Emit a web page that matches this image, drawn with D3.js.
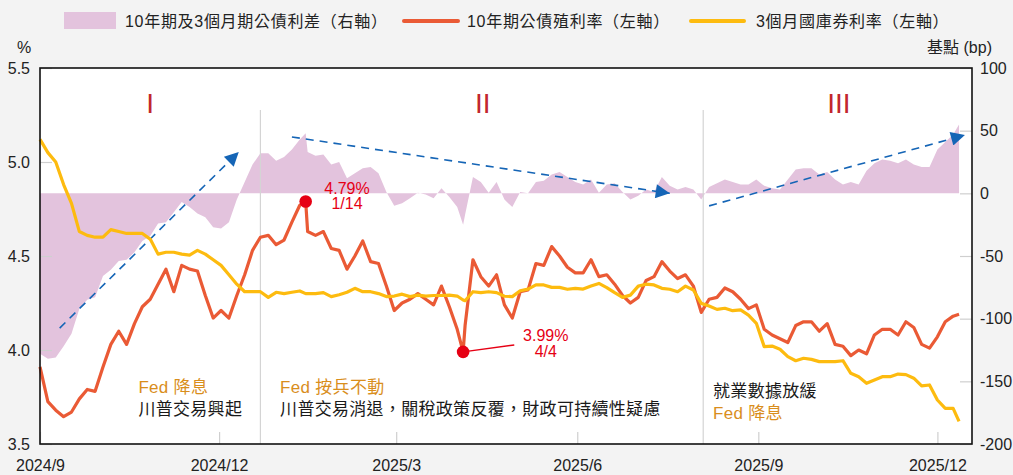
<!DOCTYPE html>
<html>
<head>
<meta charset="utf-8">
<script src="https://cdn.jsdelivr.net/npm/d3@7"></script>
<style>
  html, body { margin: 0; padding: 0; background: #f3f3f3; }
  svg { display: block; font-family: "Liberation Sans", "Noto Sans CJK TC", Arial, sans-serif; }
</style>
</head>
<body>
<div id="chart"></div>
<script>
// 取樣日期（約每4日一筆，另加 1/14 與 4/4 兩個標註點）
const dates = [
  "2024-09-01","2024-09-05","2024-09-09","2024-09-13","2024-09-17","2024-09-21","2024-09-25","2024-09-29","2024-10-03","2024-10-07",
  "2024-10-11","2024-10-15","2024-10-19","2024-10-23","2024-10-27","2024-10-31","2024-11-04","2024-11-08","2024-11-12","2024-11-16",
  "2024-11-20","2024-11-24","2024-11-28","2024-12-02","2024-12-06","2024-12-10","2024-12-14","2024-12-18","2024-12-22","2024-12-26",
  "2024-12-30","2025-01-03","2025-01-07","2025-01-11","2025-01-14","2025-01-15","2025-01-19","2025-01-23","2025-01-27","2025-01-31","2025-02-04",
  "2025-02-08","2025-02-12","2025-02-16","2025-02-20","2025-02-24","2025-02-28","2025-03-04","2025-03-08","2025-03-12","2025-03-16",
  "2025-03-20","2025-03-24","2025-03-28","2025-04-01","2025-04-04","2025-04-05","2025-04-09","2025-04-13","2025-04-17","2025-04-21","2025-04-25",
  "2025-04-29","2025-05-03","2025-05-07","2025-05-11","2025-05-15","2025-05-19","2025-05-23","2025-05-27","2025-05-31","2025-06-04",
  "2025-06-08","2025-06-12","2025-06-16","2025-06-20","2025-06-24","2025-06-28","2025-07-02","2025-07-06","2025-07-10","2025-07-14",
  "2025-07-18","2025-07-22","2025-07-26","2025-07-30","2025-08-03","2025-08-07","2025-08-11","2025-08-15","2025-08-19","2025-08-23",
  "2025-08-27","2025-08-31","2025-09-04","2025-09-08","2025-09-12","2025-09-16","2025-09-20","2025-09-24","2025-09-28","2025-10-02",
  "2025-10-06","2025-10-10","2025-10-14","2025-10-18","2025-10-22","2025-10-26","2025-10-30","2025-11-03","2025-11-07","2025-11-11",
  "2025-11-15","2025-11-19","2025-11-23","2025-11-27","2025-12-01","2025-12-05","2025-12-09","2025-12-12"
];

// 10年期公債殖利率（%，左軸）
const yield10y = [
  3.91,3.725,3.68,3.645,3.67,3.74,3.79,3.78,3.91,4.03,
  4.10,4.03,4.14,4.23,4.27,4.35,4.43,4.31,4.45,4.43,
  4.42,4.29,4.17,4.21,4.17,4.29,4.40,4.53,4.60,4.61,
  4.56,4.585,4.68,4.77,4.79,4.63,4.61,4.63,4.54,4.53,4.43,
  4.50,4.58,4.47,4.46,4.34,4.21,4.25,4.27,4.30,4.27,
  4.24,4.34,4.23,4.11,3.99,4.13,4.48,4.39,4.34,4.40,4.24,
  4.17,4.31,4.32,4.46,4.45,4.55,4.50,4.44,4.41,4.41,
  4.48,4.39,4.40,4.35,4.29,4.25,4.28,4.37,4.39,4.47,
  4.42,4.38,4.40,4.34,4.20,4.27,4.28,4.33,4.31,4.27,
  4.22,4.24,4.11,4.08,4.06,4.04,4.13,4.15,4.15,4.10,
  4.14,4.03,4.02,3.97,4.00,3.98,4.08,4.11,4.11,4.08,
  4.15,4.12,4.03,4.01,4.07,4.15,4.18,4.19
];

// 3個月國庫券利率（%，左軸）
const bill3m = [
  5.12,5.05,5.00,4.88,4.78,4.63,4.61,4.60,4.60,4.64,
  4.63,4.62,4.62,4.62,4.59,4.51,4.52,4.52,4.51,4.505,
  4.53,4.51,4.48,4.45,4.40,4.35,4.31,4.31,4.31,4.28,
  4.307,4.30,4.307,4.314,4.30,4.30,4.30,4.305,4.284,4.294,4.307,
  4.328,4.31,4.31,4.30,4.284,4.287,4.297,4.284,4.292,4.287,
  4.29,4.29,4.292,4.287,4.266,4.262,4.31,4.305,4.31,4.305,4.286,
  4.284,4.315,4.324,4.346,4.346,4.333,4.333,4.323,4.328,4.324,
  4.34,4.354,4.332,4.305,4.28,4.292,4.34,4.35,4.346,4.328,
  4.323,4.31,4.34,4.319,4.248,4.234,4.216,4.222,4.209,4.213,
  4.186,4.142,4.018,4.021,4.004,3.965,3.943,3.956,3.95,3.938,
  3.938,3.938,3.943,3.876,3.858,3.823,3.84,3.858,3.858,3.872,
  3.869,3.85,3.809,3.814,3.734,3.69,3.69,3.62
];

// 10年期及3個月期公債利差（基點，右軸）
const spreadBp = [
  -128,-132,-131,-122,-112,-92,-85,-83,-66,-61,
  -54,-53,-47,-38,-34,-24,-23,-15,-7,-11,
  -16,-19,-27,-28,-23,-5,9,23,32,32,
  26,29,35,43,48,33,30,31,23,25,12,
  16,20,21,16,1,-10,-8,-4,0.5,-1,
  -4,4,-3,-11,-25,-17,13,9,0.5,9,-5,
  -11,1,0,9,10,15,17,13,9,7,
  11,0.5,7,8,1,-5,-2,3,1,13,
  6,3,5,3,-5,5,8,11,9,7,
  7,11,6,4,3,11,19,20,20,15,
  17,11,7,9,7,18,24,27,26,24,
  27,23,21,21,35,41,47,55
];

const leftTicks = [3.5, 4.0, 4.5, 5.0, 5.5];
const rightTicks = [-200, -150, -100, -50, 0, 50, 100];
const monthTicks = ["2024-09-01","2024-12-01","2025-03-01","2025-06-01","2025-09-01","2025-12-01"];

const legendLabels = ["10年期及3個月期公債利差（右軸）", "10年期公債殖利率（左軸）", "3個月國庫券利率（左軸）"];

// 階段分隔與標示
const phaseDividers = ["2024-12-22", "2025-08-04"];
const phaseLabels = [
  { date: "2024-10-27", text: "I" },
  { date: "2025-04-14", text: "II" },
  { date: "2025-10-12", text: "III" }
];

// 利差趨勢箭頭（右軸，基點）
const trendArrows = [
  { from: ["2024-09-11", -107.5], to: ["2024-12-11", 33] },
  { from: ["2025-01-07", 45], to: ["2025-07-18", 0] },
  { from: ["2025-08-07", -10], to: ["2025-12-15", 46.5] }
];

const highlights = [
  { date: "2025-01-14", value: 4.79, label: "4.79%", sub: "1/14", labelDate: "2025-02-04", labelValue: 4.862, subValue: 4.779 },
  { date: "2025-04-04", value: 3.99, label: "3.99%", sub: "4/4", labelDate: "2025-05-16", labelValue: 4.080, subValue: 3.991, leaderTo: ["2025-04-30", 4.027] }
];

const notes = [
  { date: "2024-10-21", value: 3.803, text: "Fed 降息", gold: true },
  { date: "2024-10-21", value: 3.686, text: "川普交易興起", gold: false },
  { date: "2025-01-01", value: 3.803, text: "Fed 按兵不動", gold: true },
  { date: "2025-01-01", value: 3.686, text: "川普交易消退，關稅政策反覆，財政可持續性疑慮", gold: false },
  { date: "2025-08-09", value: 3.784, text: "就業數據放緩", gold: false },
  { date: "2025-08-09", value: 3.665, text: "Fed 降息", gold: true }
];

const parse = d3.timeParse("%Y-%m-%d");

const W = 1013, H = 475;
const margin = { top: 68, right: 41, bottom: 31, left: 40 };
const innerW = W - margin.left - margin.right;
const innerH = H - margin.top - margin.bottom;

const colors = {
  spread: "#e3c3dd",
  y10: "#ea5a35",
  b3m: "#fdbb0f",
  arrow: "#1565b6",
  hi: "#e60014",
  gold: "#d98e1c",
  roman: "#c2262e"
};

const rows = dates.map((d, i) => ({
  date: parse(d),
  y10: yield10y[i],
  b3m: bill3m[i],
  spread: spreadBp[i]
}));

const svg = d3.select("#chart").append("svg")
  .attr("width", W)
  .attr("height", H)
  .attr("viewBox", `0 0 ${W} ${H}`);

svg.append("rect").attr("width", W).attr("height", H).attr("fill", "#f3f3f3");

const g = svg.append("g").attr("transform", `translate(${margin.left},${margin.top})`);

g.append("rect").attr("width", innerW).attr("height", innerH).attr("fill", "#ffffff");

const x = d3.scaleTime()
  .domain([new Date(2024, 8, 1), new Date(2025, 11, 18, 14)])
  .range([0, innerW]);
const yL = d3.scaleLinear().domain([3.5, 5.5]).range([innerH, 0]);
const yR = d3.scaleLinear().domain([-200, 100]).range([innerH, 0]);

const defs = svg.append("defs");
defs.append("marker")
  .attr("id", "arrowhead")
  .attr("viewBox", "0 0 10 10")
  .attr("refX", 10)
  .attr("refY", 5)
  .attr("markerWidth", 17)
  .attr("markerHeight", 14)
  .attr("markerUnits", "userSpaceOnUse")
  .attr("orient", "auto")
  .append("path")
  .attr("d", "M0,0 L10,5 L0,10 Z")
  .attr("fill", colors.arrow);

// 利差面積
g.append("path")
  .datum(rows)
  .attr("fill", colors.spread)
  .attr("d", d3.area()
    .x(d => x(d.date))
    .y0(yR(0))
    .y1(d => yR(d.spread)));

// 分隔線
g.selectAll(".divider")
  .data(phaseDividers)
  .enter()
  .append("line")
  .attr("class", "divider")
  .attr("x1", d => x(parse(d)))
  .attr("x2", d => x(parse(d)))
  .attr("y1", yL(5.277))
  .attr("y2", innerH)
  .attr("stroke", "#d4d4d4")
  .attr("stroke-width", 1.2);

const axisFont = "'Liberation Sans', Arial, sans-serif";

// 軸刻度（向內）
g.append("g")
  .call(d3.axisLeft(yL).tickValues(leftTicks).tickSize(-12).tickPadding(10).tickFormat(d3.format(".1f")))
  .call(a => a.select(".domain").remove())
  .call(a => a.selectAll("line").attr("stroke", "#cfcfcf").attr("stroke-width", 1.2))
  .call(a => a.selectAll("text").attr("fill", "#222").style("font-size", "16px").style("font-family", axisFont));

g.append("g")
  .attr("transform", `translate(${innerW},0)`)
  .call(d3.axisRight(yR).tickValues(rightTicks).tickSize(-12).tickPadding(8).tickFormat(d => String(d)))
  .call(a => a.select(".domain").remove())
  .call(a => a.selectAll("line").attr("stroke", "#cfcfcf").attr("stroke-width", 1.2))
  .call(a => a.selectAll("text").attr("fill", "#222").style("font-size", "16px").style("font-family", axisFont));

g.append("g")
  .attr("transform", `translate(0,${innerH})`)
  .call(d3.axisBottom(x).tickValues(monthTicks.map(parse)).tickSize(-12).tickPadding(16)
    .tickFormat(d3.timeFormat("%Y/%-m")))
  .call(a => a.select(".domain").remove())
  .call(a => a.selectAll("line").attr("stroke", "#cfcfcf").attr("stroke-width", 1.2))
  .call(a => a.selectAll("text").attr("fill", "#222").style("font-size", "16px").style("font-family", axisFont));

// 趨勢箭頭
g.selectAll(".trend")
  .data(trendArrows)
  .enter()
  .append("line")
  .attr("class", "trend")
  .attr("x1", d => x(parse(d.from[0])))
  .attr("y1", d => yR(d.from[1]))
  .attr("x2", d => x(parse(d.to[0])))
  .attr("y2", d => yR(d.to[1]))
  .attr("stroke", colors.arrow)
  .attr("stroke-width", 1.6)
  .attr("stroke-dasharray", "8,6")
  .attr("marker-end", "url(#arrowhead)");

// 兩條利率線
const line10 = d3.line().x(d => x(d.date)).y(d => yL(d.y10));
const line3m = d3.line().x(d => x(d.date)).y(d => yL(d.b3m));

g.append("path")
  .datum(rows)
  .attr("fill", "none")
  .attr("stroke", colors.y10)
  .attr("stroke-width", 3.2)
  .attr("stroke-linejoin", "round")
  .attr("d", line10);

g.append("path")
  .datum(rows)
  .attr("fill", "none")
  .attr("stroke", colors.b3m)
  .attr("stroke-width", 3.2)
  .attr("stroke-linejoin", "round")
  .attr("d", line3m);

// 外框
g.append("rect")
  .attr("width", innerW)
  .attr("height", innerH)
  .attr("fill", "none")
  .attr("stroke", "#111")
  .attr("stroke-width", 1.6);

// 階段標示
g.selectAll(".roman")
  .data(phaseLabels)
  .enter()
  .append("text")
  .attr("class", "roman")
  .attr("x", d => x(parse(d.date)))
  .attr("y", yL(5.26))
  .attr("text-anchor", "middle")
  .attr("fill", colors.roman)
  .style("font-size", "28px")
  .style("font-family", axisFont)
  .text(d => d.text);

// 高低點標註
highlights.forEach(h => {
  if (h.leaderTo) {
    g.append("line")
      .attr("x1", x(parse(h.date)))
      .attr("y1", yL(h.value))
      .attr("x2", x(parse(h.leaderTo[0])))
      .attr("y2", yL(h.leaderTo[1]))
      .attr("stroke", colors.hi)
      .attr("stroke-width", 1.5);
  }
  g.append("circle")
    .attr("cx", x(parse(h.date)))
    .attr("cy", yL(h.value))
    .attr("r", 6.3)
    .attr("fill", colors.hi);
  g.append("text")
    .attr("x", x(parse(h.labelDate)))
    .attr("y", yL(h.labelValue))
    .attr("dy", "0.35em")
    .attr("text-anchor", "middle")
    .attr("fill", colors.hi)
    .style("font-size", "16px")
    .text(h.label);
  g.append("text")
    .attr("x", x(parse(h.labelDate)))
    .attr("y", yL(h.subValue))
    .attr("dy", "0.35em")
    .attr("text-anchor", "middle")
    .attr("fill", colors.hi)
    .style("font-size", "16px")
    .text(h.sub);
});

// 說明文字
g.selectAll(".note")
  .data(notes)
  .enter()
  .append("text")
  .attr("class", "note")
  .attr("x", d => x(parse(d.date)))
  .attr("y", d => yL(d.value))
  .attr("dy", "0.38em")
  .attr("fill", d => d.gold ? colors.gold : "#1a1a1a")
  .style("font-size", "17px")
  .style("letter-spacing", "0.3px")
  .text(d => d.text);

// 軸單位
svg.append("text")
  .attr("x", 24).attr("y", 47)
  .attr("dy", "0.35em")
  .attr("text-anchor", "middle")
  .attr("fill", "#222")
  .style("font-size", "16px")
  .text("%");

svg.append("text")
  .attr("x", 992).attr("y", 47)
  .attr("dy", "0.35em")
  .attr("text-anchor", "end")
  .attr("fill", "#222")
  .style("font-size", "16px")
  .text("基點 (bp)");

// 圖例
const legend = svg.append("g");
legend.append("rect")
  .attr("x", 64).attr("y", 12).attr("width", 52).attr("height", 17)
  .attr("fill", colors.spread);
legend.append("line")
  .attr("x1", 404).attr("x2", 458).attr("y1", 21).attr("y2", 21)
  .attr("stroke", colors.y10).attr("stroke-width", 4).attr("stroke-linecap", "round");
legend.append("line")
  .attr("x1", 691).attr("x2", 744).attr("y1", 21).attr("y2", 21)
  .attr("stroke", colors.b3m).attr("stroke-width", 4).attr("stroke-linecap", "round");

const legendX = [125, 467, 756];
legend.selectAll(".lg")
  .data(legendLabels)
  .enter()
  .append("text")
  .attr("class", "lg")
  .attr("x", (d, i) => legendX[i])
  .attr("y", 21)
  .attr("dy", "0.35em")
  .attr("fill", "#222")
  .style("font-size", "16px")
  .style("letter-spacing", "0.7px")
  .text(d => d);
</script>
</body>
</html>
